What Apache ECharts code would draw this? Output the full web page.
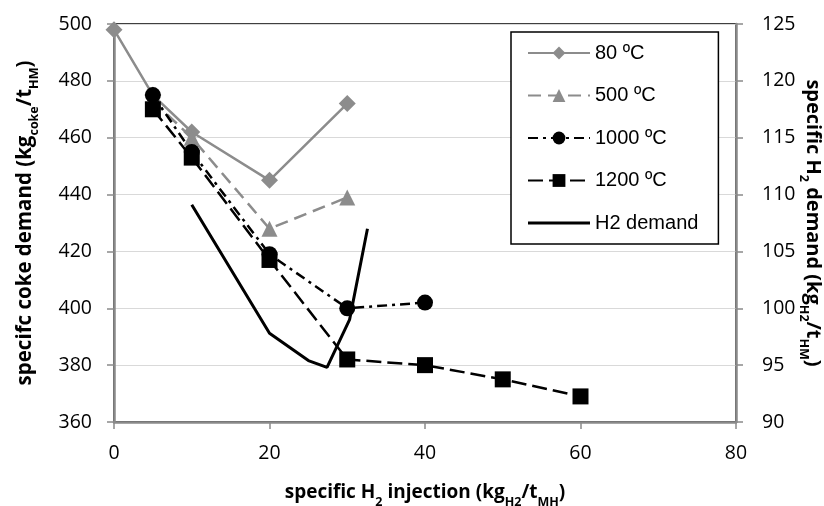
<!DOCTYPE html>
<html>
<head>
<meta charset="utf-8">
<script src="https://cdn.jsdelivr.net/npm/echarts@6/dist/echarts.min.js"></script>
<style>
  html, body { margin: 0; padding: 0; background: #fff; }
  #chart { width: 824px; height: 506px; }
</style>
</head>
<body>
<div id="chart"></div>
<script>
// values
const x80 = [0, 5, 10, 20, 30]
const coke80 = [498, 475, 462, 445, 472]
const x500 = [5, 10, 20, 30]
const coke500 = [473, 460, 428, 439]
const x1000 = [5, 10, 20, 30, 40]
const coke1000 = [475, 455, 419, 400, 402]
const x1200 = [5, 10, 20, 30, 40, 50, 60]
const coke1200 = [470, 453, 417, 382, 380, 375, 369]
const xH2 = [10, 20, 25, 27.4, 30.3, 32.6]
const h2Demand = [109.1, 97.8, 95.4, 94.8, 99.0, 107.0]

const seriesNames = ['80 ºC', '500 ºC', '1000 ºC', '1200 ºC', 'H2 demand']

const gray = '#8c8c8c'
const axisGray = '#8a8a8a'

function pairs(xs, ys) {
  return xs.map((x, i) => [x, ys[i]])
}

const tickFont = { fontFamily: 'Open Sans', fontSize: 19.5, color: '#000' }

function nameFont(size) {
  return {
    fontFamily: 'Open Sans',
    fontSize: size,
    fontWeight: 'bold',
    color: '#000',
    lineHeight: 26,
    rich: {
      s: {
        fontFamily: 'Open Sans',
        fontSize: 12.5,
        fontWeight: 'bold',
        color: '#000',
        lineHeight: 12,
        verticalAlign: 'bottom',
        padding: [0, 0, -3, 0]
      }
    }
  }
}

const axisLine = { show: true, lineStyle: { color: axisGray, width: 2.5 } }
const axisTick = { show: true, length: 7, lineStyle: { color: axisGray, width: 1.5 } }

const chart = echarts.init(document.getElementById('chart'))
chart.setOption({
  animation: false,
  grid: {
    left: 114,
    right: 88,
    top: 24,
    bottom: 84,
    outerBoundsMode: 'none',
    show: true,
    borderColor: '#000',
    borderWidth: 1.5
  },
  legend: {
    orient: 'vertical',
    left: 511,
    top: 32,
    data: [
      seriesNames[0],
      seriesNames[1],
      seriesNames[2],
      seriesNames[3],
      { name: seriesNames[4], icon: 'path://M0,0 L62,0 L62,3 L0,3 Z' }
    ],
    itemWidth: 62,
    itemHeight: 16,
    itemGap: 22.5,
    padding: [11, 20, 11, 16],
    borderColor: '#000',
    borderWidth: 1.5,
    backgroundColor: '#fff',
    textStyle: { fontFamily: 'Liberation Sans', fontSize: 20, color: '#000' }
  },
  xAxis: {
    type: 'value',
    min: 0,
    max: 80,
    interval: 20,
    name: 'specific H{s|2} injection (kg{s|H2}/t{s|MH})',
    nameLocation: 'middle',
    nameGap: 58,
    nameMoveOverlap: false,
    nameTextStyle: nameFont(19),
    axisLine: axisLine,
    axisTick: axisTick,
    axisLabel: Object.assign({ margin: 21 }, tickFont),
    splitLine: { show: false }
  },
  yAxis: [
    {
      type: 'value',
      min: 360,
      max: 500,
      interval: 20,
      name: 'specifc coke demand (kg{s|coke}/t{s|HM})',
      nameLocation: 'middle',
      nameRotate: 90,
      nameGap: 76,
      nameMoveOverlap: false,
      nameTextStyle: nameFont(20.5),
      axisLine: axisLine,
      axisTick: axisTick,
      axisLabel: Object.assign({ margin: 22 }, tickFont),
      splitLine: { show: true, lineStyle: { color: '#d9d9d9', width: 1 } }
    },
    {
      type: 'value',
      min: 90,
      max: 125,
      interval: 5,
      position: 'right',
      name: 'specific H{s|2} demand (kg{s|H2}/t{s|HM})',
      nameLocation: 'middle',
      nameRotate: -90,
      nameGap: 64,
      nameMoveOverlap: false,
      nameTextStyle: nameFont(20),
      axisLine: axisLine,
      axisTick: axisTick,
      axisLabel: Object.assign({ margin: 26 }, tickFont),
      splitLine: { show: false }
    }
  ],
  series: [
    {
      name: seriesNames[0],
      type: 'line',
      data: pairs(x80, coke80),
      symbol: 'diamond',
      symbolSize: 17,
      itemStyle: { color: gray },
      lineStyle: { color: gray, width: 2.5 }
    },
    {
      name: seriesNames[1],
      type: 'line',
      data: pairs(x500, coke500),
      symbol: 'triangle',
      symbolSize: 16,
      itemStyle: { color: gray },
      lineStyle: { color: gray, width: 2.5, type: [13, 7] }
    },
    {
      name: seriesNames[2],
      type: 'line',
      data: pairs(x1000, coke1000),
      symbol: 'circle',
      symbolSize: 16,
      itemStyle: { color: '#000' },
      lineStyle: { color: '#000', width: 2.5, type: [10, 5, 3, 5] }
    },
    {
      name: seriesNames[3],
      type: 'line',
      data: pairs(x1200, coke1200),
      symbol: 'rect',
      symbolSize: 16,
      itemStyle: { color: '#000' },
      lineStyle: { color: '#000', width: 2.5, type: [15, 6] }
    },
    {
      name: seriesNames[4],
      type: 'line',
      yAxisIndex: 1,
      data: pairs(xH2, h2Demand),
      symbol: 'none',
      itemStyle: { color: '#000' },
      lineStyle: { color: '#000', width: 3 }
    }
  ]
})
</script>
</body>
</html>
